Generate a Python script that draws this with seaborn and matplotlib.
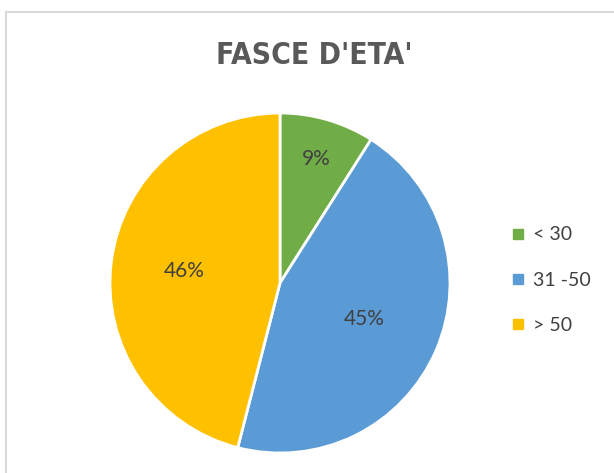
import matplotlib
matplotlib.use('Agg')

import matplotlib.pyplot as plt
import seaborn as sns
from matplotlib.lines import Line2D
from matplotlib.patches import Rectangle

# dati
fasce = ['< 30', '31 -50', '> 50']
percentuali = [9, 45, 46]
colori = ['#70AD47', '#5B9BD5', '#FFC000']
# distanza delle etichette dal centro, per fetta
distanze = [0.76, 0.54, 0.57]

sns.set_theme(style='white')
plt.rcParams['font.family'] = ['Lato', 'DejaVu Sans']

W, H = 614, 473
fig = plt.figure(figsize=(W / 100, H / 100), dpi=100)

# cornice grigia del grafico (tagliata a destra e in basso)
fig.patches.append(Rectangle((6 / W, -0.1), 1.2, (H - 12) / H + 0.1,
                             transform=fig.transFigure, fill=False,
                             edgecolor='#d9d9d9', linewidth=1.5))

cx, cy, r = 280, 283, 170
ax = fig.add_axes([(cx - r) / W, (H - cy - r) / H, 2 * r / W, 2 * r / H])
wedges, testi, autotesti = ax.pie(
    percentuali, colors=colori, startangle=90, counterclock=False,
    autopct='%d%%', pctdistance=1.0,
    wedgeprops=dict(edgecolor='white', linewidth=2),
    textprops=dict(color='#404040', fontsize=15))
# sposta le etichette verso l'interno, ognuna con la sua distanza
for t, d in zip(autotesti, distanze):
    x, y = t.get_position()
    t.set_position((x * d, y * d))
ax.set_xlim(-1, 1)
ax.set_ylim(-1, 1)
ax.set_aspect('equal')

fig.text(314 / W, 1 - 56 / H, "FASCE D'ETA'", ha='center', va='center',
         fontsize=21.5, fontweight='bold', color='#595959',
         family='DejaVu Sans', fontstretch='condensed')

handles = [Line2D([], [], marker='s', linestyle='none', markersize=7,
                  markerfacecolor=c, markeredgecolor=c) for c in colori]
fig.legend(handles, fasce, loc='center left', bbox_to_anchor=(494 / W, 1 - 280 / H),
           frameon=False, fontsize=14, labelcolor='#404040',
           handlelength=0.7, handletextpad=0.4, labelspacing=1.45)

fig.savefig('out.png', dpi=100)
